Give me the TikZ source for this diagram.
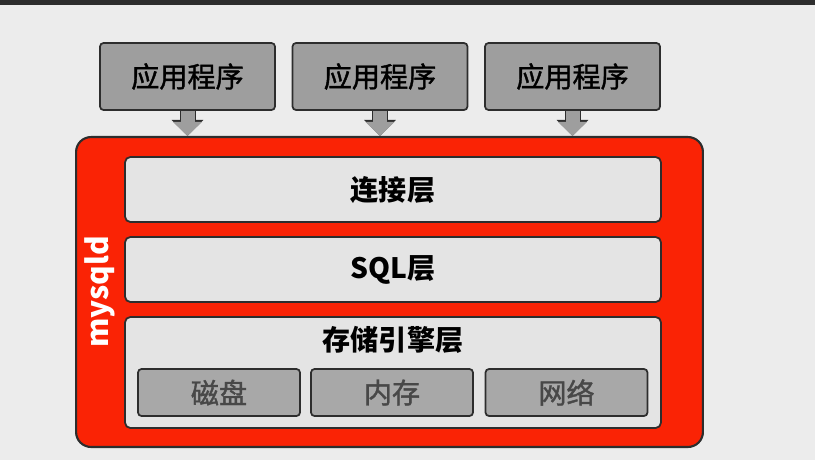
\documentclass[tikz,border=0pt]{standalone}
\usepackage{fontspec}
\setmainfont{Noto Sans CJK SC}
\newfontfamily\cjkmid{Noto Sans CJK SC}[FakeBold=1.4]
\usetikzlibrary{arrows.meta}

\definecolor{mysqlred}{RGB}{250,35,5}
\definecolor{appgray}{RGB}{158,158,158}
\definecolor{layergray}{RGB}{228,228,228}
\definecolor{subgray}{RGB}{168,168,168}
\definecolor{subtext}{RGB}{72,72,72}
\definecolor{edgegray}{RGB}{45,45,45}
\definecolor{bggray}{RGB}{236,236,236}

\begin{document}
\begin{tikzpicture}[x=0.02cm, y=-0.02cm,
		app/.style={draw=edgegray, line width=1pt, fill=appgray, rounded corners=2pt,
			minimum width=3.5cm, minimum height=1.34cm, font=\cjkmid\fontsize{16}{18}\selectfont},
		layer/.style={draw=edgegray, line width=1pt, fill=layergray, rounded corners=3pt,
			minimum width=10.72cm, font=\bfseries\fontsize{16}{18}\selectfont},
		unit/.style={draw=edgegray, line width=1pt, fill=subgray, rounded corners=2pt,
			minimum width=3.24cm, minimum height=0.94cm, text=subtext, font=\cjkmid\fontsize{16}{18}\selectfont},
		apparrow/.style={draw=appgray, line width=0.28cm, -{Triangle[length=0.28cm,width=0.56cm]},
			preaction={draw=edgegray, line width=0.32cm, -{Triangle[length=0.32cm,width=0.62cm]}}}]
		\useasboundingbox (0,0) rectangle (815,460);
		\fill[bggray] (0,0) rectangle (815,460);
		\fill[edgegray] (0,0) rectangle (815,5);
		
		% application programs
		\node[app] (app1) at (187.5,76.5) {应用程序};
		\node[app] (app2) at (380,76.5) {应用程序};
		\node[app] (app3) at (572.5,76.5) {应用程序};
		
		% server
		\node[draw=edgegray, line width=1.2pt, fill=mysqlred, rounded corners=0.3cm,
			minimum width=12.54cm, minimum height=6.2cm] (mysqld) at (389.5,292) {};
		\node[rotate=90, text=white, font=\bfseries\fontsize{17}{19}\selectfont] (name) at (100,292) {mysqld};
		
		\node[layer, minimum height=1.3cm] (conn) at (393,189.5) {连接层};
		\node[layer, minimum height=1.3cm] (sql) at (393,269.5) {SQL层};
		\node[layer, minimum height=2.22cm] (engine) at (393,372.5) {};
		\node[font=\bfseries\fontsize{16}{18}\selectfont] (title) at (393,340) {存储引擎层};
		
		\node[unit] (disk) at (219,392.5) {磁盘};
		\node[unit] (mem) at (392,392.5) {内存};
		\node[unit] (net) at (566.5,392.5) {网络};
		
		\foreach \a in {app1,app2,app3}
			\draw[apparrow] (\a.south) -- (\a.south |- mysqld.north);
	\end{tikzpicture}
\end{document}
